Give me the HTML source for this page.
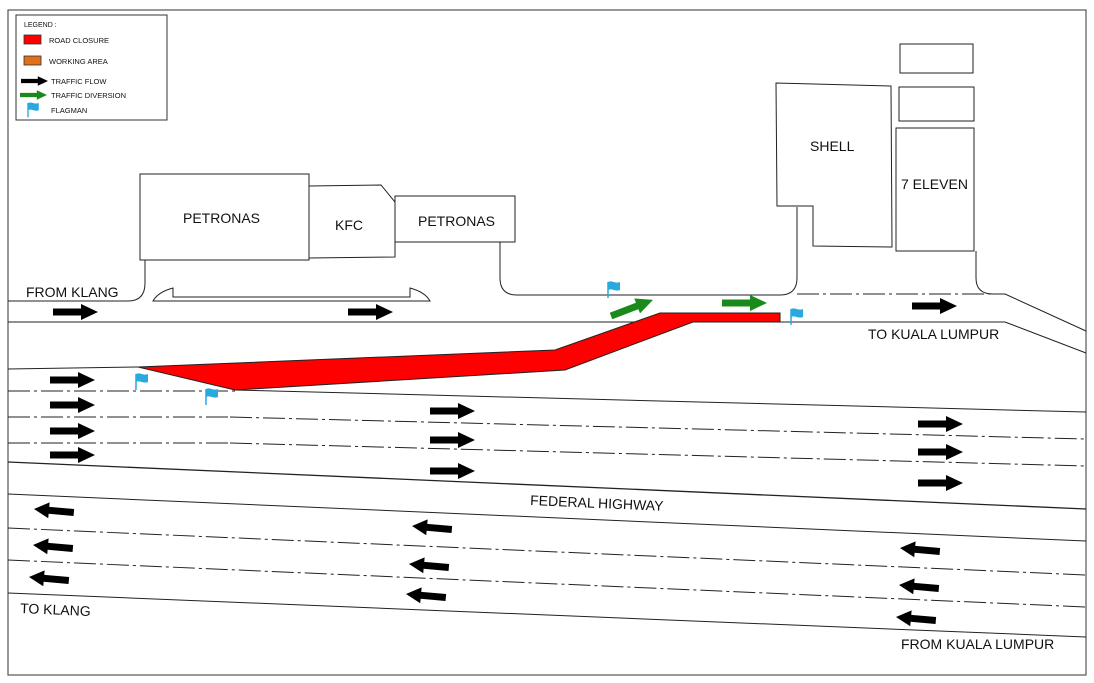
<!DOCTYPE html>
<html><head><meta charset="utf-8"><style>
html,body{margin:0;padding:0;background:#fff}
svg{display:block}
text{font-family:"Liberation Sans",sans-serif;fill:#111}
</style></head><body>
<svg width="1094" height="683" viewBox="0 0 1094 683" xmlns="http://www.w3.org/2000/svg">
<defs>
<path id="ar" d="M0,-3.5 L28,-3.5 L28,-8 L45,0 L28,8 L28,3.5 L0,3.5Z" fill="#000"/>
<path id="al" d="M0,0 L15,-8 L15,-3.5 L40,-3.5 L40,3.5 L15,3.5 L15,8Z" fill="#000"/>
<path id="ag" d="M0,-3.5 L28,-3.5 L28,-8 L45,0 L28,8 L28,3.5 L0,3.5Z" fill="#1a8a1a"/>
<g id="flag"><line x1="0" y1="0" x2="0" y2="16" stroke="#29a9e0" stroke-width="1.5"/><path d="M0,0 C4,-2 7,2 12,0 L12,8 C7,10 4,6 0,8Z" fill="#29a9e0"/></g>
</defs>
<rect x="8" y="10" width="1078" height="665" fill="none" stroke="#555" stroke-width="1.2"/>
<rect x="16" y="15" width="151" height="105" fill="#fff" stroke="#333" stroke-width="1"/>
<text x="24" y="27" font-size="7">LEGEND :</text>
<rect x="24" y="35" width="17" height="9" fill="#f00" stroke="#333" stroke-width=".8"/>
<text x="49" y="43" font-size="7.5">ROAD CLOSURE</text>
<rect x="24" y="56" width="17" height="9" fill="#e0701a" stroke="#333" stroke-width=".8"/>
<text x="49" y="64" font-size="7.5">WORKING AREA</text>
<use href="#ar" transform="translate(21,81) scale(0.6)"/>
<text x="51" y="84" font-size="7.5">TRAFFIC FLOW</text>
<use href="#ag" transform="translate(20,95) scale(0.6)"/>
<text x="51" y="98" font-size="7.5">TRAFFIC DIVERSION</text>
<use href="#flag" transform="translate(28,103) scale(0.9)"/>
<text x="51" y="113" font-size="7.5">FLAGMAN</text>

<g fill="none" stroke="#222" stroke-width="1">
<rect x="140" y="174" width="169" height="86"/>
<path d="M309,186 L381,185 L395,202 L395,257 L309,258Z"/>
<rect x="395" y="196" width="120" height="46"/>
<path d="M776,83 L891,86 L892,247 L813,246 L813,206 L777,206Z"/>
<rect x="896" y="128" width="78" height="123"/>
<rect x="900" y="44" width="73" height="29"/>
<rect x="899" y="87" width="75" height="34"/>
<path d="M8,301 L128,301 Q145,301 145,283 L145,260"/>
<path d="M500,242 L500,278 Q500,295 517,295 L780,295 Q797,295 797,278 L797,207"/>
<path d="M976,251 L976,278 Q976,294 993,294 L1005,294 L1086,331"/>
<path d="M153,301 Q158,292 173,288 L173,297 L410,297 L410,288 Q425,292 430,301 Z"/>
<path d="M8,322 L1005,322 L1086,353"/>
<path d="M8,369 L138,367"/>
<path d="M235,390 L1086,412"/>
<path d="M230,417 L1086,439" stroke-dasharray="22,4,3,4"/>
<path d="M230,443 L1086,466" stroke-dasharray="22,4,3,4"/>
<path d="M8,417 L230,417" stroke-dasharray="22,4,3,4"/>
<path d="M8,443 L230,443" stroke-dasharray="22,4,3,4"/>
<path d="M8,391 L235,391" stroke-dasharray="22,4,3,4"/>
<path d="M8,462 L1086,509" stroke-width="1.3"/>
<path d="M8,494 L1086,541"/>
<path d="M8,528 L1086,575" stroke-dasharray="22,4,3,4"/>
<path d="M8,560 L1086,607" stroke-dasharray="22,4,3,4"/>
<path d="M8,593 L1086,637"/>
<path d="M797,294 L993,294" stroke-dasharray="22,4,3,4"/>
</g>
<path d="M138,367 L555,350 L660,313 L780,313 L780,322 L693,322 L565,370 L235,390Z" fill="#f00" stroke="#222" stroke-width="1"/>
<use href="#ar" x="53" y="312"/><use href="#ar" x="348" y="312"/>
<use href="#ar" x="50" y="380"/><use href="#ar" x="50" y="405"/><use href="#ar" x="50" y="431"/><use href="#ar" x="50" y="455"/>
<use href="#ar" x="430" y="411"/><use href="#ar" x="430" y="440"/><use href="#ar" x="430" y="471"/>
<use href="#ar" x="918" y="424"/><use href="#ar" x="918" y="452"/><use href="#ar" x="918" y="483"/>
<use href="#ar" x="912" y="306"/>
<g transform="translate(34,509) rotate(5)"><use href="#al"/></g>
<g transform="translate(33,545) rotate(5)"><use href="#al"/></g>
<g transform="translate(29,577) rotate(5)"><use href="#al"/></g>
<g transform="translate(412,526) rotate(5)"><use href="#al"/></g>
<g transform="translate(409,564) rotate(5)"><use href="#al"/></g>
<g transform="translate(406,594) rotate(5)"><use href="#al"/></g>
<g transform="translate(900,548) rotate(5)"><use href="#al"/></g>
<g transform="translate(899,585) rotate(5)"><use href="#al"/></g>
<g transform="translate(896,617) rotate(5)"><use href="#al"/></g>
<g transform="translate(611,316) rotate(-21)"><use href="#ag"/></g>
<use href="#ag" x="722" y="303"/>
<use href="#flag" x="608" y="282"/><use href="#flag" x="136" y="374"/><use href="#flag" x="206" y="389"/><use href="#flag" x="791" y="309"/>
<g font-size="14">
<text x="26" y="297">FROM KLANG</text>
<text x="868" y="339">TO KUALA LUMPUR</text>
<text x="530" y="505" transform="rotate(2.5 530 505)">FEDERAL HIGHWAY</text>
<text x="20" y="613" transform="rotate(2.5 20 613)">TO KLANG</text>
<text x="901" y="649">FROM KUALA LUMPUR</text>
<text x="183" y="223">PETRONAS</text>
<text x="335" y="230">KFC</text>
<text x="418" y="226">PETRONAS</text>
<text x="810" y="151">SHELL</text>
<text x="901" y="189">7 ELEVEN</text>
</g>
</svg>
</body></html>
